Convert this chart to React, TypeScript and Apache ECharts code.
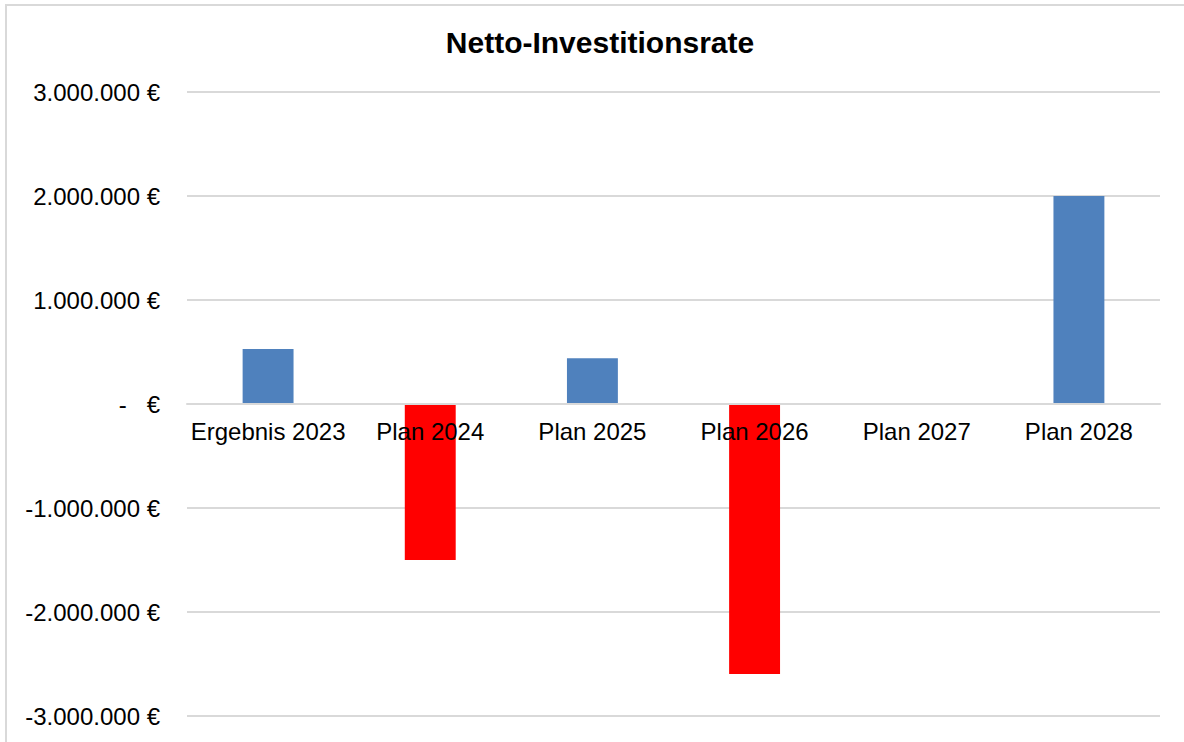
import React, { useEffect, useRef } from "react";
import * as echarts from "echarts";

const categories = ["Ergebnis 2023", "Plan 2024", "Plan 2025", "Plan 2026", "Plan 2027", "Plan 2028"];
const values = [530000, -1500000, 440000, -2595000, 0, 2000000];
const titleText = "Netto-Investitionsrate";
const positiveColor = "#4f81bd";
const negativeColor = "#ff0000";

const FONT = "'Liberation Sans', Arial, sans-serif";

const GRID_TOP = 92;
const GRID_BOTTOM = 26;
const CHART_H = 742;
const Y_MIN = -3000000;
const Y_MAX = 3000000;

function formatEuro(v: number): string {
  if (v === 0) return "-\u00a0\u00a0\u00a0€";
  const sign = v < 0 ? "-" : "";
  const abs = Math.abs(Math.round(v)).toString();
  const withDots = abs.replace(/\B(?=(\d{3})+(?!\d))/g, ".");
  return sign + withDots + " €";
}

export default function App() {
  const ref = useRef<HTMLDivElement>(null);
  useEffect(() => {
    if (!ref.current) return;
    const chart = echarts.init(ref.current, undefined, { renderer: "svg" });
    const gridH = CHART_H - GRID_TOP - GRID_BOTTOM;
    // distance from bottom of grid to zero line
    const zeroOffset = (gridH * (0 - Y_MIN)) / (Y_MAX - Y_MIN);
    chart.setOption({
      animation: false,
      backgroundColor: "#ffffff",
      graphic: [
        {
          type: "rect",
          shape: { x: 6, y: 5, width: 1300, height: 900 },
          style: { fill: "none", stroke: "#d9d9d9", lineWidth: 2 },
          silent: true,
          z: 0,
        },
        {
          type: "text",
          x: 600,
          y: 42,
          style: {
            text: titleText,
            font: `bold 30px ${FONT}`,
            fill: "#000000",
            textAlign: "center",
            textVerticalAlign: "middle",
          },
          z: 10,
        },
      ],
      grid: {
        left: 187,
        right: 24,
        top: GRID_TOP,
        bottom: GRID_BOTTOM,
        containLabel: false,
        outerBoundsMode: "none",
      },
      xAxis: {
        type: "category",
        data: categories,
        position: "bottom",
        offset: -zeroOffset,
        axisLine: { show: true, onZero: false, lineStyle: { color: "#d9d9d9", width: 2 } },
        axisTick: { show: false },
        axisLabel: {
          color: "#000000",
          fontSize: 24,
          fontFamily: FONT,
          margin: 15,
          interval: 0,
        },
        z: 5,
      },
      yAxis: {
        type: "value",
        min: Y_MIN,
        max: Y_MAX,
        interval: 1000000,
        axisLine: { show: false },
        axisTick: { show: false },
        splitLine: { lineStyle: { color: "#d9d9d9", width: 2 } },
        axisLabel: {
          color: "#000000",
          fontSize: 24,
          fontFamily: FONT,
          margin: 27,
          formatter: (v: number) => formatEuro(v),
        },
      },
      series: [
        {
          type: "bar",
          barWidth: "31.4%",
          data: values.map((v) => ({
            value: v,
            itemStyle: { color: v < 0 ? negativeColor : positiveColor },
          })),
          z: 2,
        },
      ],
    });
    return () => chart.dispose();
  }, []);
  return (
    <div
      ref={ref}
      style={{ position: "fixed", left: 0, top: 0, width: 1184, height: 742, background: "#fff" }}
    />
  );
}
